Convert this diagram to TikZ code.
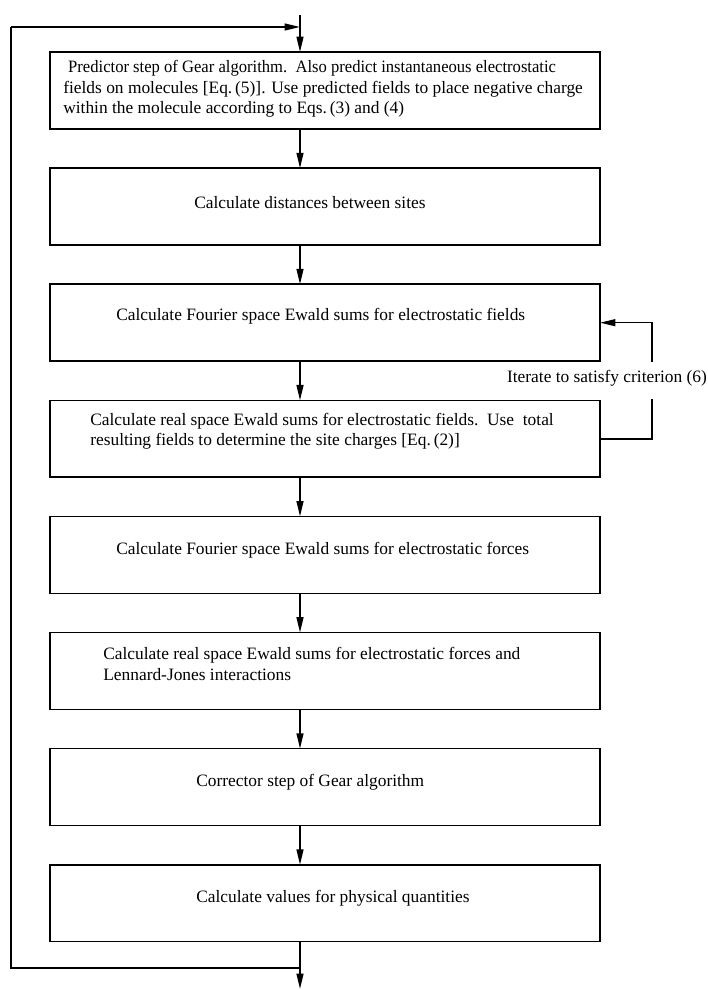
\documentclass[tikz,border=0pt]{standalone}
\usepackage{fontspec}
\usepackage{graphicx}
\setmainfont{Liberation Serif}
\usetikzlibrary{arrows.meta,calc}
\begin{document}
\begin{tikzpicture}[x=0.65pt,y=-0.65pt,
  box/.style={draw, line width=1pt, minimum width=357.5pt, minimum height=50pt, inner sep=0pt, outer sep=0pt},
  txt/.style={anchor=west, align=left, inner sep=0pt, font=\fontsize{11.3pt}{13.3pt}\selectfont},
  flow/.style={line width=1pt, -{Triangle[length=10pt,width=4.5pt]}},
  plain/.style={line width=1pt}]
\useasboundingbox (0,0) rectangle (707,990);
% boxes
\node[box] (b1) at (325,90.5) {};
\node[box] (b2) at (325,206.6) {};
\node[box] (b3) at (325,322.7) {};
\node[box] (b4) at (325,438.8) {};
\node[box] (b5) at (325,554.9) {};
\node[box] (b6) at (325,671) {};
\node[box] (b7) at (325,787.1) {};
\node[box] (b8) at (325,903.2) {};
% texts
\node[txt] (t1) at (63,89) {\hspace*{3.2pt}\scalebox{0.955}[1]{Predictor step of Gear algorithm.\ \ Also predict instantaneous electrostatic}\\fields on molecules [Eq.\,(5)]. Use predicted fields to place negative charge\\within the molecule according to Eqs.\,(3) and (4)};
\node[txt] (t2) at (194,203) {Calculate distances between sites};
\node[txt] (t3) at (116,316) {Calculate Fourier space Ewald sums for electrostatic fields};
\node[txt] (t4) at (90,431) {Calculate real space Ewald sums for electrostatic fields.\ \ Use\ \ total\\resulting fields to determine the site charges [Eq.\,(2)]};
\node[txt] (t5) at (116,550) {Calculate Fourier space Ewald sums for electrostatic forces};
\node[txt] (t6) at (103,664) {Calculate real space Ewald sums for electrostatic forces and\\Lennard-Jones interactions};
\node[txt] (t7) at (196,782) {Corrector step of Gear algorithm};
\node[txt] (t8) at (196,898) {Calculate values for physical quantities};
\node[txt, anchor=center] (lab) at (607,378) {Iterate to satisfy criterion (6)};
% coordinates
\coordinate (in) at (300,15);
\coordinate (out) at (300,989);
\coordinate (j1) at (300,968);
\coordinate (c1) at (11,968);
\coordinate (c2) at (11,27);
\coordinate (j2) at (300,27);
\coordinate (r1) at (652,438.8);
\coordinate (r2) at (652,399);
\coordinate (r3) at (652,362);
\coordinate (r4) at (652,322.7);
% main flow
\draw[flow] (in) -- ($(b1.north)+(-25,0)$);
\draw[flow] ($(b1.south)+(-25,0)$) -- ($(b2.north)+(-25,0)$);
\draw[flow] ($(b2.south)+(-25,0)$) -- ($(b3.north)+(-25,0)$);
\draw[flow] ($(b3.south)+(-25,0)$) -- ($(b4.north)+(-25,0)$);
\draw[flow] ($(b4.south)+(-25,0)$) -- ($(b5.north)+(-25,0)$);
\draw[flow] ($(b5.south)+(-25,0)$) -- ($(b6.north)+(-25,0)$);
\draw[flow] ($(b6.south)+(-25,0)$) -- ($(b7.north)+(-25,0)$);
\draw[flow] ($(b7.south)+(-25,0)$) -- ($(b8.north)+(-25,0)$);
\draw[flow] ($(b8.south)+(-25,0)$) -- (out);
% outer feedback loop
\draw[plain] (j1) -- (c1) -- (c2);
\draw[flow] (c2) -- (j2);
% iteration loop
\draw[plain] (b4.east) -- (r1) -- (r2);
\draw[flow] (r3) -- (r4) -- (b3.east);
\end{tikzpicture}
\end{document}
